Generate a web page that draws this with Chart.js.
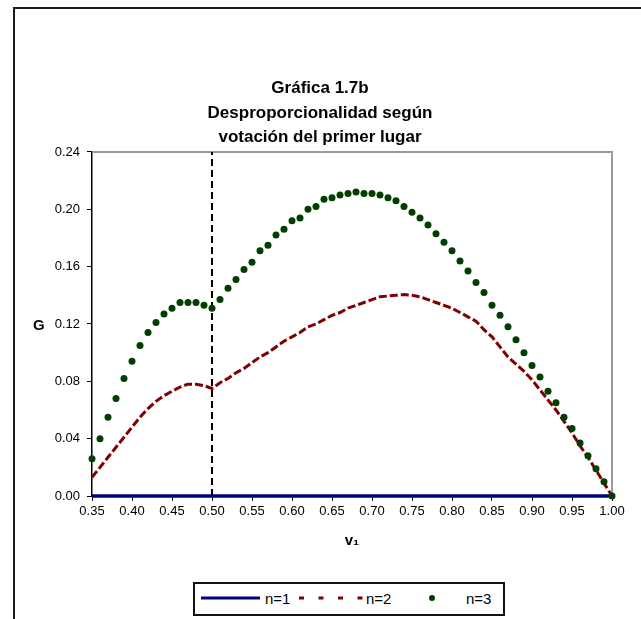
<!DOCTYPE html>
<html>
<head>
<meta charset="utf-8">
<script src="https://cdn.jsdelivr.net/npm/chart.js@4.4.0/dist/chart.umd.min.js"></script>
<style>
    html, body { margin: 0; padding: 0; background: #fff; overflow: hidden; }
    #lienzo { position: relative; width: 641px; height: 619px; overflow: hidden; }
    #marco { position: absolute; left: 13px; top: 7px; width: 700px; height: 700px;
             border-left: 2px solid #1a1a1a; border-top: 2px solid #1a1a1a; }
    #grafico { position: absolute; left: 0; top: 0; }
    #ejeG { position: absolute; left: 33px; top: 316px; font: bold 15px 'Liberation Sans', Arial, sans-serif; color: #000; }
    #leyenda { position: absolute; left: 193px; top: 582px; }
    #leyenda text { font: 15px 'Liberation Sans', Arial, sans-serif; fill: #000; }
</style>
</head>
<body>
<div id="lienzo">
    <div id="marco"></div>
    <canvas id="grafico" width="641" height="619"></canvas>
    <div id="ejeG">G</div>
    <svg id="leyenda" width="312" height="34">
        <rect x="1" y="1" width="310" height="32" fill="#fff" stroke="#111" stroke-width="2"/>
        <line x1="8" y1="16" x2="67" y2="16" stroke="#000080" stroke-width="3"/>
        <text x="72" y="16" dominant-baseline="central">n=1</text>
        <line x1="106" y1="16" x2="171" y2="16" stroke="#800000" stroke-width="3" stroke-dasharray="5 14.5"/>
        <text x="173" y="16" dominant-baseline="central">n=2</text>
        <circle cx="239" cy="16" r="3" fill="#003f00"/>
        <text x="273" y="16" dominant-baseline="central">n=3</text>
    </svg>
</div>
<script>
// ============================================
// DATOS
// ============================================

// Votación del primer lugar (eje x)
const valoresV1 = [
    0.35, 0.36, 0.37, 0.38, 0.39, 0.40, 0.41, 0.42, 0.43, 0.44,
    0.45, 0.46, 0.47, 0.48, 0.49, 0.50, 0.51, 0.52, 0.53, 0.54,
    0.55, 0.56, 0.57, 0.58, 0.59, 0.60, 0.61, 0.62, 0.63, 0.64,
    0.65, 0.66, 0.67, 0.68, 0.69, 0.70, 0.71, 0.72, 0.73, 0.74,
    0.75, 0.76, 0.77, 0.78, 0.79, 0.80, 0.81, 0.82, 0.83, 0.84,
    0.85, 0.86, 0.87, 0.88, 0.89, 0.90, 0.91, 0.92, 0.93, 0.94,
    0.95, 0.96, 0.97, 0.98, 0.99, 1.00
];

// G para n=1
const serieN1 = [
    0, 0, 0, 0, 0, 0, 0, 0, 0, 0,
    0, 0, 0, 0, 0, 0, 0, 0, 0, 0,
    0, 0, 0, 0, 0, 0, 0, 0, 0, 0,
    0, 0, 0, 0, 0, 0, 0, 0, 0, 0,
    0, 0, 0, 0, 0, 0, 0, 0, 0, 0,
    0, 0, 0, 0, 0, 0, 0, 0, 0, 0,
    0, 0, 0, 0, 0, 0
];

// G para n=2
const serieN2 = [
    0.013, 0.020, 0.027, 0.034, 0.041, 0.048, 0.055, 0.061, 0.066, 0.070,
    0.073, 0.076, 0.078, 0.078, 0.077, 0.075, 0.079, 0.082, 0.086, 0.089,
    0.093, 0.097, 0.100, 0.104, 0.108, 0.111, 0.114, 0.118, 0.120, 0.123,
    0.126, 0.128, 0.131, 0.133, 0.135, 0.137, 0.139, 0.1395, 0.140, 0.1405,
    0.140, 0.139, 0.137, 0.135, 0.133, 0.131, 0.128, 0.125, 0.122, 0.116,
    0.111, 0.104, 0.097, 0.092, 0.087, 0.081, 0.074, 0.067, 0.060, 0.052,
    0.044, 0.035, 0.027, 0.018, 0.009, 0.000
];

// G para n=3
const serieN3 = [
    0.026, 0.040, 0.055, 0.068, 0.082, 0.094, 0.105, 0.114, 0.121, 0.127,
    0.131, 0.135, 0.135, 0.135, 0.133, 0.131, 0.137, 0.145, 0.151, 0.158,
    0.163, 0.171, 0.175, 0.182, 0.186, 0.192, 0.194, 0.200, 0.202, 0.207,
    0.208, 0.210, 0.211, 0.212, 0.211, 0.211, 0.210, 0.208, 0.206, 0.202,
    0.198, 0.194, 0.189, 0.183, 0.177, 0.171, 0.164, 0.157, 0.149, 0.142,
    0.133, 0.126, 0.118, 0.109, 0.100, 0.091, 0.083, 0.073, 0.065, 0.055,
    0.047, 0.037, 0.028, 0.019, 0.010, 0.000
];

// Marcas de los ejes
const ticksX = [0.35, 0.40, 0.45, 0.50, 0.55, 0.60, 0.65, 0.70, 0.75, 0.80, 0.85, 0.90, 0.95, 1.00];
const ticksY = [0.00, 0.04, 0.08, 0.12, 0.16, 0.20, 0.24];

// Línea vertical de referencia
const corteV1 = 0.50;

const tituloGrafica = ['Gráfica 1.7b', 'Desproporcionalidad según', 'votación del primer lugar'];

// ============================================
// FUNCIONES
// ============================================

/**
 * Unir x e y en puntos para la escala lineal
 */
function puntos(serie) {
    return valoresV1.map((x, i) => ({ x: x, y: serie[i] }));
}

/**
 * Borde gris superior y derecho del área de trazado
 */
const bordeArea = {
    id: 'bordeArea',
    beforeDatasetsDraw(chart) {
        const { ctx, chartArea: a } = chart;
        ctx.save();
        ctx.strokeStyle = '#9a9a9a';
        ctx.lineWidth = 2;
        ctx.beginPath();
        ctx.moveTo(a.left, a.top);
        ctx.lineTo(a.right, a.top);
        ctx.lineTo(a.right, a.bottom);
        ctx.stroke();
        ctx.restore();
    }
};

Chart.defaults.font.family = "'Liberation Sans', Arial, sans-serif";
Chart.defaults.color = '#000';

function crearGrafico() {
    const ctx = document.getElementById('grafico').getContext('2d');

    new Chart(ctx, {
        type: 'line',
        data: {
            datasets: [
                {
                    label: 'n=3',
                    data: puntos(serieN3),
                    showLine: false,
                    pointRadius: 3.5,
                    pointBackgroundColor: '#003f00',
                    pointBorderWidth: 0,
                    clip: false,
                    order: 0
                },
                {
                    label: 'n=2',
                    data: puntos(serieN2),
                    borderColor: '#800000',
                    borderWidth: 3,
                    borderDash: [8, 3],
                    pointRadius: 0,
                    tension: 0,
                    clip: false,
                    order: 1
                },
                {
                    label: 'n=1',
                    data: puntos(serieN1),
                    borderColor: '#000080',
                    borderWidth: 3.5,
                    pointRadius: 0,
                    clip: false,
                    order: 2
                },
                {
                    label: 'corte',
                    data: [
                        { x: corteV1, y: ticksY[0] },
                        { x: corteV1, y: ticksY[ticksY.length - 1] }
                    ],
                    borderColor: '#000',
                    borderWidth: 2,
                    borderDash: [7, 4],
                    pointRadius: 0,
                    order: 3
                }
            ]
        },
        options: {
            responsive: false,
            animation: false,
            layout: {
                padding: { left: 28, right: 29, top: 0, bottom: 67 }
            },
            plugins: {
                legend: { display: false },
                tooltip: { enabled: false },
                title: {
                    display: true,
                    text: tituloGrafica,
                    color: '#000',
                    font: { size: 17, weight: 'bold', lineHeight: 1.45 },
                    padding: { top: 76, bottom: 2 }
                }
            },
            scales: {
                x: {
                    type: 'linear',
                    min: ticksX[0],
                    max: ticksX[ticksX.length - 1],
                    afterBuildTicks: function(scale) {
                        scale.ticks = ticksX.map(v => ({ value: v }));
                    },
                    afterFit: function(scale) {
                        scale.height = 56;
                    },
                    ticks: {
                        color: '#000',
                        padding: 3,
                        maxRotation: 0,
                        font: { size: 13 },
                        callback: function(value) {
                            return value.toFixed(2);
                        }
                    },
                    grid: {
                        display: true,
                        drawOnChartArea: false,
                        drawTicks: true,
                        tickLength: 5,
                        color: '#000'
                    },
                    border: { display: true, color: '#000', width: 1.5 },
                    title: {
                        display: true,
                        text: 'v₁',
                        color: '#000',
                        font: { size: 15, weight: 'bold' },
                        padding: { top: 0, bottom: 2 }
                    }
                },
                y: {
                    type: 'linear',
                    min: ticksY[0],
                    max: ticksY[ticksY.length - 1],
                    afterBuildTicks: function(scale) {
                        scale.ticks = ticksY.map(v => ({ value: v }));
                    },
                    afterFit: function(scale) {
                        scale.width = 64;
                    },
                    ticks: {
                        color: '#000',
                        padding: 7,
                        font: { size: 13 },
                        callback: function(value) {
                            return value.toFixed(2);
                        }
                    },
                    grid: {
                        display: true,
                        drawOnChartArea: false,
                        drawTicks: true,
                        tickLength: 5,
                        color: '#000'
                    },
                    border: { display: true, color: '#000', width: 1.5 }
                }
            }
        },
        plugins: [bordeArea]
    });
}

crearGrafico();
</script>
</body>
</html>
